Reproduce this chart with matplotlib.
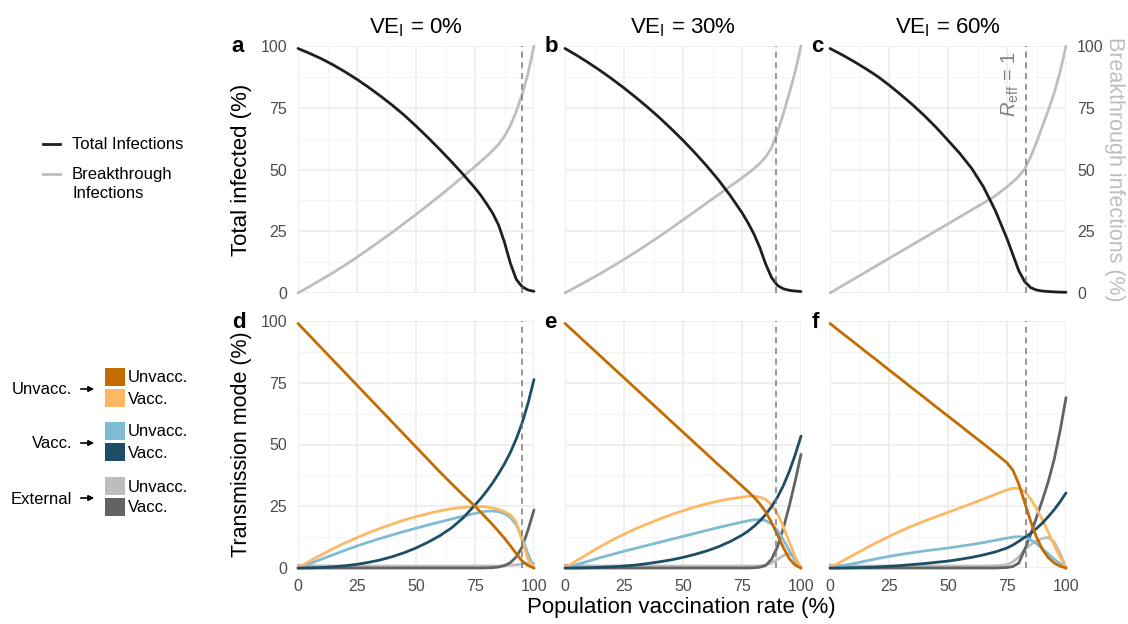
#!/usr/bin/env python3
"""
vaccination rate vs infections / transmission mode, three VE_I scenarios
"""

import matplotlib
matplotlib.use('Agg')
import matplotlib.pyplot as plt
import matplotlib.patches as mpatches
from matplotlib.lines import Line2D

plt.rcParams['font.family'] = ['Liberation Sans', 'DejaVu Sans']
plt.rcParams['mathtext.fontset'] = 'custom'
plt.rcParams['mathtext.rm'] = 'Liberation Sans'
plt.rcParams['mathtext.it'] = 'Liberation Sans:italic'

# vaccination rates (%) at which the curves were read
vax = [0, 5, 10, 15, 20, 25, 30, 35, 40, 45, 50, 55, 60, 65, 70, 75,
       77.5, 80, 82.5, 85, 87.5, 90, 92.5, 95, 97.5, 100]

ve_labels = ['0%', '30%', '60%']
reff_line = [95, 89.3, 83]

# top row: total and breakthrough infections (%)
total_a = [99, 97.0, 94.8, 92.3, 89.5, 86.5, 83.2, 79.7, 76, 72, 67.6, 63, 58.2, 53.2, 48, 42.5,
           39.5, 36, 32.3, 27.5, 20.5, 12, 5.5, 2.5, 1.2, 0.7]
total_b = [99, 96.2, 93.2, 90, 86.6, 83, 79.2, 75.2, 71, 66.5, 61.8, 56.8, 51.5, 45.8, 39.5, 32.5,
           28.5, 24, 18.5, 11.8, 6.3, 3.1, 1.7, 1.1, 0.8, 0.6]
total_c = [99, 96.5, 93.8, 90.9, 87.8, 84.2, 80.3, 76.2, 71.8, 67, 61.8, 56.5, 50.5, 43, 33.5, 22,
           15.5, 9, 4.6, 2.2, 1.2, 0.8, 0.6, 0.45, 0.35, 0.3]

brk_a = [0, 2.7, 5.5, 8.3, 11.3, 14.5, 17.8, 21.2, 24.6, 28.2, 31.8, 35.5, 39.3, 43.2, 47.2, 51.2,
         53.3, 55.4, 57.7, 60.2, 63.5, 67.8, 73.5, 80.5, 89, 100]
brk_b = [0, 2.6, 5.2, 7.9, 10.7, 13.6, 16.6, 19.7, 22.9, 26.2, 29.6, 33, 36.4, 39.8, 43.2, 46.6,
         48.4, 50.3, 52.4, 55, 58.8, 65, 72.5, 80.8, 89.5, 100]
brk_c = [0, 2.8, 5.6, 8.4, 11.2, 14, 16.8, 19.6, 22.4, 25.2, 28, 30.8, 33.6, 36.4, 39.3, 43,
         45, 47.3, 50.2, 55, 61, 67.5, 74, 81, 89.5, 100]

# bottom row: transmission mode (%), source -> target
uu_d = [99, 94, 89, 84, 79, 74, 69, 64, 59, 54, 49, 44, 39, 34.2, 29.5, 25,
        22.5, 20, 17.5, 14.8, 12, 9, 5.8, 2.8, 1, 0]
uv_d = [0, 2.8, 5.4, 7.9, 10.2, 12.3, 14.3, 16.1, 17.8, 19.4, 20.8, 22, 23.1, 24, 24.6, 24.9,
        24.9, 24.7, 24.3, 23.7, 22.8, 21.5, 18.5, 11, 3.5, 0]
vu_d = [0, 1.8, 3.6, 5.4, 7.2, 8.9, 10.5, 12, 13.4, 14.8, 16.1, 17.4, 18.6, 19.8, 21, 22.1,
        22.6, 23, 23.1, 22.8, 22, 20.5, 17.5, 12, 5.5, 0]
vv_d = [0, 0.05, 0.2, 0.5, 0.9, 1.5, 2.3, 3.3, 4.6, 6.2, 8.1, 10.4, 13, 16.2, 20.3, 25.5,
        28.2, 31.2, 34.5, 38.2, 42.2, 46.8, 52.3, 58.8, 66.8, 76.3]
eu_d = [1.2, 1, 0.9, 0.8, 0.8, 0.8, 0.8, 0.8, 0.8, 0.8, 0.8, 0.8, 0.8, 0.8, 0.8, 0.8,
        0.8, 0.8, 0.8, 0.8, 0.9, 1.1, 1.3, 1.6, 1.9, 2]
ev_d = [0, 0, 0, 0, 0, 0, 0, 0, 0, 0, 0, 0, 0, 0, 0, 0,
        0, 0.05, 0.15, 0.4, 1, 2.2, 4.5, 8.5, 15.5, 23.5]

uu_e = [99, 94.6, 90.2, 85.8, 81.4, 77, 72.6, 68.2, 63.8, 59.4, 55, 50.6, 46.2, 41.8, 37.5, 33.2,
        31, 28.7, 26, 22.8, 18.5, 13.5, 8.3, 3.8, 1.2, 0]
uv_e = [0, 3, 5.9, 8.7, 11.3, 13.7, 15.9, 17.9, 19.8, 21.6, 23.2, 24.7, 26, 27.1, 28, 28.7,
        29, 29, 28.7, 27.8, 25.6, 22, 16.8, 10.5, 4.5, 0]
vu_e = [0, 1.4, 2.8, 4.2, 5.5, 6.8, 8, 9.2, 10.4, 11.6, 12.8, 14, 15.2, 16.4, 17.5, 18.6,
        19.1, 19.5, 19.6, 19.2, 17.8, 15.2, 11.5, 7, 3, 0]
vv_e = [0, 0.03, 0.1, 0.3, 0.5, 0.8, 1.2, 1.8, 2.5, 3.3, 4.3, 5.5, 6.9, 8.6, 10.7, 13.3,
        14.9, 16.8, 19, 21.6, 24.8, 28.6, 33.3, 39, 45.7, 53.4]
eu_e = [1.2, 1, 0.9, 0.8, 0.8, 0.8, 0.8, 0.8, 0.8, 0.8, 0.8, 0.8, 0.8, 0.8, 0.8, 0.8,
        0.8, 0.8, 0.9, 1.2, 2, 3.5, 5, 5.8, 4, 0]
ev_e = [0, 0, 0, 0, 0, 0, 0, 0, 0, 0, 0, 0, 0, 0, 0, 0,
        0, 0.1, 0.3, 1, 3.5, 8.5, 16, 25, 35, 46]

uu_f = [99, 95.2, 91.5, 87.7, 84, 80.2, 76.5, 72.7, 69, 65.2, 61.5, 57.8, 54, 50.3, 46.5, 42.6,
        39.6, 34, 26.5, 19, 12.5, 7.5, 4.2, 2, 0.7, 0]
uv_f = [0, 2.7, 5.3, 7.9, 10.4, 12.8, 15, 17.1, 19, 20.8, 22.5, 24.3, 26.1, 27.9, 29.8, 31.6,
        32.3, 32.2, 31, 28, 24, 19.5, 14.5, 9.2, 4.3, 0]
vu_f = [0, 0.9, 1.8, 2.8, 3.8, 4.7, 5.5, 6.2, 6.9, 7.5, 8.1, 8.8, 9.5, 10.3, 11.2, 12.1,
        12.5, 12.7, 12.5, 11.5, 9.8, 7.8, 5.7, 3.6, 1.7, 0]
vv_f = [0, 0.02, 0.1, 0.2, 0.4, 0.7, 1, 1.4, 1.8, 2.3, 2.8, 3.5, 4.3, 5.3, 6.5, 8.1,
        9.3, 10.8, 12.4, 14, 16, 18.2, 20.8, 23.6, 26.8, 30.4]
eu_f = [1.2, 1, 0.9, 0.8, 0.8, 0.8, 0.8, 0.8, 0.8, 0.8, 0.8, 0.8, 0.8, 0.8, 0.9, 1.3,
        2.5, 4.5, 7.5, 9.5, 11, 12, 12.4, 10.5, 6, 0]
ev_f = [0, 0, 0, 0, 0, 0, 0, 0, 0, 0, 0, 0, 0, 0, 0, 0.2,
        0.6, 2, 7.5, 13.5, 20.5, 27.5, 35, 44, 55.5, 69]

mode_names = ['Unvacc. -> Unvacc.', 'Unvacc. -> Vacc.', 'Vacc. -> Unvacc.',
              'Vacc. -> Vacc.', 'External -> Unvacc.', 'External -> Vacc.']
mode_colors = ['#c46c00', '#fdb863', '#80bbd6', '#1e4e66', '#bdbdbd', '#636363']

totals = [total_a, total_b, total_c]
breaks = [brk_a, brk_b, brk_c]
modes = [[uu_d, uv_d, vu_d, vv_d, eu_d, ev_d],
         [uu_e, uv_e, vu_e, vv_e, eu_e, ev_e],
         [uu_f, uv_f, vu_f, vv_f, eu_f, ev_f]]

W, H = 1128, 624
fig = plt.figure(figsize=(W / 100, H / 100), dpi=100)

col_left = [298, 565, 830]
col_width = 236
row_top = [46, 321]
row_height = 247

tick_col = '#4d4d4d'
grid_major = '#ebebeb'
grid_minor = '#f2f2f2'


def px_axes(left, top, width, height):
    return fig.add_axes([left / W, 1 - (top + height) / H, width / W, height / H])


def style_axes(ax):
    ax.set_xlim(0, 100)
    ax.set_ylim(0, 100)
    ax.set_xticks([0, 25, 50, 75, 100])
    ax.set_yticks([0, 25, 50, 75, 100])
    ax.set_xticks([12.5, 37.5, 62.5, 87.5], minor=True)
    ax.set_yticks([12.5, 37.5, 62.5, 87.5], minor=True)
    ax.grid(True, which='major', color=grid_major, linewidth=1.1)
    ax.grid(True, which='minor', color=grid_minor, linewidth=0.6)
    ax.set_axisbelow(True)
    for s in ax.spines.values():
        s.set_visible(False)
    ax.tick_params(which='both', length=0, pad=8, labelsize=11.5, labelcolor=tick_col)


panel_letters = [['a', 'b', 'c'], ['d', 'e', 'f']]
letter_x = [[231, 545, 811], [232, 544, 812]]

for j in range(3):
    # top row
    ax = px_axes(col_left[j], row_top[0], col_width, row_height)
    style_axes(ax)
    ax.plot(vax, breaks[j], color='#bebebe', lw=2.0, clip_on=False, solid_capstyle='round')
    ax.plot(vax, totals[j], color='#1f1f1f', lw=2.0, clip_on=False, solid_capstyle='round')
    ax.axvline(reff_line[j], color='#7a7a7a', lw=1.1, ls=(0, (4, 3)))
    ax.set_xticklabels([])
    if j == 0:
        ax.set_ylabel('Total infected (%)', fontsize=16, labelpad=6)
    elif j == 1:
        ax.set_yticklabels([])
    else:
        ax.yaxis.tick_right()
        ax.yaxis.set_label_position('right')
        ax.set_ylabel('Breakthrough infections (%)', fontsize=15.5, color='#bebebe',
                      rotation=270, labelpad=15)
        ax.text(reff_line[j] - 2.0, 98, r'$R_\mathrm{eff}$ = 1', rotation=90,
                ha='right', va='top', fontsize=14.5, color='#808080')
    ax.set_title(r'VE$_\mathrm{I}$ = ' + ve_labels[j], fontsize=16, pad=9)

    # bottom row
    ax = px_axes(col_left[j], row_top[1], col_width, row_height)
    style_axes(ax)
    order = [4, 5, 2, 1, 3, 0]
    for k in order:
        ax.plot(vax, modes[j][k], color=mode_colors[k], lw=2.0, clip_on=False,
                label=mode_names[k], solid_capstyle='round')
    ax.axvline(reff_line[j], color='#7a7a7a', lw=1.1, ls=(0, (4, 3)))
    if j == 0:
        ax.set_ylabel('Transmission mode (%)', fontsize=15.5, labelpad=6)
    else:
        ax.set_yticklabels([])

for r in range(2):
    for j in range(3):
        fig.text(letter_x[r][j] / W, 1 - (row_top[r] + 1) / H, panel_letters[r][j],
                 fontsize=16, fontweight='bold', ha='left', va='center')

fig.text(681 / W, 1 - 607 / H, 'Population vaccination rate (%)', fontsize=16,
         ha='center', va='center')

# legend: top row
fig.add_artist(Line2D([43 / W, 60 / W], [1 - 144 / H, 1 - 144 / H], color='#1f1f1f', lw=2.0))
fig.add_artist(Line2D([43 / W, 60 / W], [1 - 174 / H, 1 - 174 / H], color='#bebebe', lw=2.0))
fig.text(72 / W, 1 - 144 / H, 'Total Infections', fontsize=12, va='center')
fig.text(72 / W, 1 - 174 / H, 'Breakthrough', fontsize=12, va='center')
fig.text(72 / W, 1 - 194 / H, 'Infections', fontsize=12, va='center')

# legend: bottom row (source -> target)
group_names = ['Unvacc.', 'Vacc.', 'External']
group_y = [389, 443, 498]
for g in range(3):
    yc = group_y[g]
    fig.text(72 / W, 1 - (yc + 1) / H, group_names[g], fontsize=12, ha='right', va='center')
    fig.add_artist(mpatches.FancyArrowPatch((78 / W, 1 - yc / H), (97 / W, 1 - yc / H),
                                            transform=fig.transFigure, arrowstyle='-|>',
                                            mutation_scale=8, color='black', lw=1.2))
    for s in range(2):
        top = yc - 21 + s * 21
        fig.add_artist(mpatches.Rectangle((105 / W, 1 - (top + 18) / H), 20 / W, 18 / H,
                                          transform=fig.transFigure,
                                          facecolor=mode_colors[2 * g + s], edgecolor='none'))
        fig.text(128 / W, 1 - (top + 10) / H, ['Unvacc.', 'Vacc.'][s], fontsize=12,
                 va='center')

plt.savefig('out.png', dpi=100)
plt.close()
